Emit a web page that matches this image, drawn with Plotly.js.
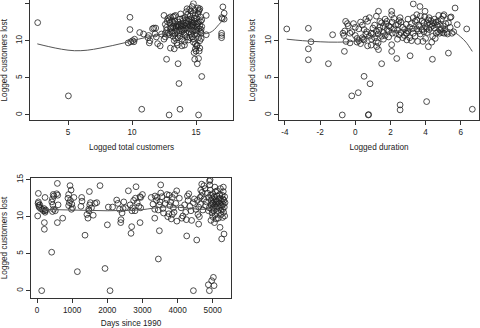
<!DOCTYPE html>
<html><head><meta charset="utf-8">
<script src="https://cdn.plot.ly/plotly-3.0.1.min.js"></script>
<style>html,body{margin:0;padding:0;background:#fff}#chart{width:480px;height:328px}</style>
</head><body><div id="chart"></div>
<script>
// Panel 1: Logged total customers vs Logged customers lost
const p1x = [2.63,5.03,9.84,9.84,9.7,9.9,10.05,10.2,10.15,10.6,10.9,10.76,11.3,11.25,11.4,11.35,11.7,11.85,11.6,11.9,11.8,12.0,12.2,12.7,12.9,13.6,13.67,13.75,15.2,15.45,15.1,15.2,14.9,14.85,15.0,15.05,14.95,15.3,15.8,15.8,17.1,17.2,17.0,17.05,17.0,17.0,17.0,17.2,14.8,13.0,13.3,13.0,13.5,13.9,14.1,13.55,12.5,12.6,12.3,
12.6,12.7,12.8,12.9,12.5,12.8,12.7,12.9,13.0,12.95,12.6,12.75,
13.1,13.2,13.3,13.4,13.1,13.2,13.3,13.45,13.35,13.25,13.15,13.4,13.3,13.45,13.05,13.35,13.2,13.5,13.4,
13.6,13.7,13.8,13.9,13.6,13.75,13.85,13.95,13.65,13.75,13.9,13.55,13.7,13.8,13.95,13.6,13.85,
14.05,14.1,14.2,14.3,14.4,14.15,14.25,14.35,14.45,14.1,14.2,14.3,14.4,14.05,14.15,14.25,14.35,14.45,14.5,14.2,14.4,14.0,14.3,14.1,
14.55,14.6,14.7,14.8,14.9,14.55,14.65,14.75,14.85,14.95,14.6,14.7,14.8,14.9,14.65,14.75,14.85,14.95,14.6,14.7,14.9,14.55,14.8,14.95,14.65,14.75,
15.05,15.1,15.2,15.3,15.4,15.05,15.15,15.25,15.35,15.45,15.1,15.2,15.3,15.4,15.05,15.15,15.25,15.35,15.45,15.2,15.3,15.1,15.25,15.4,15.15,15.35];
const p1y = [12.43,2.57,13.15,11.5,9.7,9.85,10.0,10.2,9.85,11.1,10.9,0.77,10.7,10.4,10.0,9.7,11.7,11.7,11.6,10.5,10.9,9.6,9.3,7.5,0,6.9,4.23,0.77,0,5.18,6.9,7.6,7.5,8.4,8.6,9.3,8.9,9.0,10.8,13.4,14.55,13.7,13.1,12.95,11.0,10.7,10.4,12.9,15.0,13.2,8.9,9.0,9.7,9.3,9.4,9.4,10.2,10.5,10.9,
12.2,11.4,11.0,12.8,13.4,13.0,11.8,10.8,11.6,12.4,11.0,12.6,
11.2,11.9,12.3,11.5,12.7,13.2,13.3,12.0,10.9,11.7,11.0,10.3,10.0,11.8,11.8,12.6,10.6,11.3,13.4,
11.9,12.1,11.6,11.2,12.5,12.9,12.3,13.0,11.0,10.6,10.2,12.2,11.4,13.6,11.8,10.4,12.0,
12.1,11.6,12.4,11.9,12.6,13.1,12.8,13.5,11.2,10.8,11.0,10.5,10.1,11.4,12.0,13.9,12.2,12.9,14.2,11.7,11.7,12.7,14.3,9.9,
12.0,11.5,12.3,11.8,12.6,13.3,12.8,13.7,13.0,11.4,10.9,10.5,10.2,10.8,11.9,12.1,12.4,13.4,14.0,14.6,14.1,10.4,9.8,9.6,12.5,11.3,
12.2,11.8,12.5,12.0,11.5,13.0,13.6,14.1,13.2,12.8,10.9,10.4,10.0,11.0,11.3,12.3,11.6,12.6,11.9,13.9,14.3,9.4,8.6,10.3,14.4,11.2];
const fit1x = [2.6,3.5,4.5,5.5,6.5,7.5,8.5,9.5,10.5,11.5,12.5,13.5,14.3,14.8,15.3,15.8,16.3,16.8,17.3];
const fit1y = [9.57,9.2,8.85,8.65,8.72,9.0,9.35,9.75,10.2,10.6,10.95,11.3,11.55,11.4,11.05,10.95,11.3,12.2,13.1];

// Panel 2: Logged duration vs Logged customers lost
const p2x = [-3.9,-2.67,-2.67,-2.67,-2.52,-1.53,-1.29,-0.74,-0.62,-0.53,-0.55,-0.45,-0.4,-0.7,-0.6,-0.65,-0.2,-0.3,0,0.17,0.5,0.74,0.76,0.84,1.5,2.07,2.07,2.36,2.55,2.55,3.12,3.3,3.68,3.97,4.06,4.39,4.16,5.3,5.68,5.8,6.34,6.66,5.0,5.05,5.4,5.45,0.93,1.22,1.32,1.32,2.07,2.07,2.93,2.93,3.5,
-0.2,-0.1,0.0,0.1,0.2,0.3,0.4,0.5,0.6,0.7,0.8,0.9,0.2,0.4,0.6,0.8,0.5,0.3,0.7,0.9,1.0,0.1,-0.3,0.45,0.65,
1.1,1.2,1.3,1.4,1.5,1.6,1.7,1.8,1.9,1.1,1.3,1.5,1.7,1.9,1.2,1.4,1.6,1.8,1.0,1.35,1.2,1.6,1.9,1.75,
2.1,2.2,2.3,2.4,2.5,2.6,2.7,2.8,2.9,2.2,2.4,2.6,2.8,2.1,2.5,2.7,2.3,2.9,2.0,2.55,2.45,
3.0,3.1,3.2,3.3,3.4,3.5,3.6,3.7,3.8,3.9,3.1,3.3,3.5,3.7,3.9,3.2,3.4,3.6,3.8,3.0,3.55,3.85,3.95,3.25,3.65,
4.0,4.1,4.2,4.3,4.4,4.5,4.6,4.7,4.8,4.9,4.1,4.3,4.5,4.7,4.9,4.2,4.4,4.6,4.8,4.0,4.25,4.45,4.65,4.85,4.35,4.55,4.15,4.75,4.95,4.05,
5.0,5.1,5.2,5.3,5.05,5.15,5.25,5.4,5.5,5.6];
const p2y = [11.58,11.67,8.9,7.43,9.86,6.9,10.8,0,8.56,9.9,12.6,12.3,12.0,11.0,11.3,10.7,2.57,9.7,10.7,3.0,5.2,0,0.05,4.2,6.9,9.46,8.56,7.6,1.35,0.68,7.97,14.95,14.6,13.96,1.8,7.5,9.2,8.33,14.4,12.16,11.58,0.77,13.3,13.5,13.1,13.2,10.2,9.2,8.8,13.96,13.96,13.5,11.0,10.1,13.5,
11.2,12.3,11.8,10.3,10.0,9.6,10.4,11.5,12.9,12.6,13.1,11.0,11.6,12.1,10.9,10.6,10.1,12.5,9.3,9.4,11.7,9.8,11.0,10.2,11.2,
12.1,11.3,10.9,11.8,12.4,11.1,10.7,11.5,12.0,10.4,9.7,10.6,12.9,11.3,13.3,12.6,11.9,12.6,10.9,11.4,9.9,10.2,10.5,12.3,
11.0,11.6,12.1,11.4,12.7,11.1,11.8,10.7,12.2,13.0,10.2,12.5,11.5,12.5,10.8,10.4,11.0,11.0,11.8,13.1,12.2,
11.3,11.8,12.3,11.0,12.6,11.6,12.1,10.9,11.5,12.4,10.4,13.1,12.8,13.3,11.2,10.0,10.6,11.3,12.7,12.9,9.9,9.9,13.2,11.6,11.9,
11.9,12.3,11.5,12.7,12.0,11.7,12.5,11.2,12.2,11.6,11.1,11.8,12.9,12.6,12.9,13.1,10.6,11.0,11.0,10.3,12.2,12.4,12.1,11.4,9.8,10.3,12.8,13.4,11.1,11.6,
12.0,11.5,11.1,12.4,11.0,12.3,10.9,11.8,11.0,11.2];
const fit2x = [-3.9,-3,-2,-1,0,1,2,3,4,4.8,5.3,5.7,6.0,6.3,6.66];
const fit2y = [10.2,10.0,9.85,9.8,9.95,10.55,11.1,11.55,11.85,11.85,11.5,11.05,10.5,9.8,8.55];

// Panel 3: Days since 1990 vs Logged customers lost
const p3x = [133,19,38,209,209,228,228,417,579,579,730,939,1148,1271,1366,1490,1793,1935,2002,2030,2078,2267,2381,2390,2600,2675,2694,2789,2818,2932,2932,3358,3453,3482,3520,3975,4260,4450,4545,4640,4687,4876,4905,4971,5019,5038,4924,5208,5255,5322,5303,
40,50,60,80,100,150,180,200,230,250,30,
420,440,450,460,470,480,520,560,590,600,440,
880,900,920,950,970,990,1010,1050,980,900,
1250,1280,1420,1450,1470,1500,1520,1550,1600,1650,1700,1480,
2150,2300,2350,2420,2450,2470,2520,
2650,2700,2750,2800,2850,2900,2950,3000,2720,2950,
3250,3300,3350,3400,3450,3480,3500,3520,3550,3580,3600,3350,3420,
3650,3700,3720,3750,3780,3800,3820,3850,3880,3900,3950,3980,3700,3760,3850,3920,
4050,4100,4150,4200,4250,4280,4320,4350,4380,4400,4450,4480,4120,4230,4300,
4520,4560,4580,4600,4620,4650,4680,4700,4720,4750,4780,4800,4820,4850,4880,4750,4660,4600,
4910,4920,4930,4940,4950,4960,4970,4980,4990,5000,5010,5020,5030,5040,5050,5060,5070,5080,5090,5100,5110,5120,5130,5140,5150,5160,5170,5180,5190,5200,5210,5220,5230,5240,5250,5260,5270,5280,5290,5300,5310,5320,5330,5340,5350,5340,5300,4950,5000,5050,5100,4900,4880,4990,5130,5060,5220,5280];
const p3y = [0,10.1,13.15,9.2,8.3,10.8,12.6,5.2,9.2,14.5,9.8,14.2,2.57,12.6,7.5,13.4,14.2,3.0,8.9,11.3,0,12.25,9.2,9.6,13.5,7.75,8.65,10.8,14.05,9.2,12.7,12.8,4.28,8.1,14.3,13.5,7.4,0,6.85,12.6,14.4,0.8,0,1.35,1.8,0.68,15.0,8.56,7.0,7.66,14.0,
12.0,11.5,11.3,11.6,11.1,11.0,10.8,11.1,10.6,10.9,11.8,
12.0,12.4,11.6,13.0,11.0,12.8,10.8,13.1,12.9,11.6,10.7,
12.5,13.0,11.9,12.2,13.6,11.7,11.2,12.6,11.0,11.5,
11.4,12.1,10.3,9.8,11.0,11.6,11.9,11.2,10.2,11.8,11.9,10.8,
11.3,11.8,11.0,10.5,11.1,12.0,11.2,
11.6,10.8,12.2,12.5,11.9,11.4,11.2,13.0,11.2,12.6,
12.6,11.7,11.0,12.2,10.9,11.6,12.0,13.2,12.7,11.1,10.5,9.8,12.6,
11.8,12.3,10.0,10.4,11.5,12.0,9.7,12.6,11.2,10.6,11.8,9.4,13.0,12.9,10.3,13.0,
12.5,11.2,10.1,11.6,9.6,12.8,13.1,11.4,10.8,9.5,11.9,12.4,9.8,10.6,12.2,
11.0,12.2,10.3,9.0,10.0,11.7,12.8,13.3,10.9,12.4,13.8,11.5,12.0,13.2,12.6,14.2,13.6,11.3,
14.8,14.3,13.6,12.9,12.2,11.6,11.0,10.5,12.5,13.1,11.9,11.3,10.8,12.7,12.1,11.5,10.2,13.4,12.3,11.7,11.1,12.8,12.0,11.4,10.7,9.8,12.4,11.8,11.2,13.0,12.5,11.6,10.9,10.3,12.1,11.5,12.9,11.0,12.4,11.7,10.6,12.2,11.3,12.7,11.9,10.1,13.4,9.5,10.0,9.2,9.7,11.2,10.8,11.8,13.5,14.0,13.8,9.9];
const fit3x = [0,500,1000,1500,2000,2500,3000,3300,3600,3900,4200,4500,4800,5000,5200,5350];
const fit3y = [11.0,10.95,10.9,10.85,10.8,10.85,10.95,11.15,11.3,11.3,11.2,11.05,11.0,11.15,11.35,11.5];

const yTicks = [0,5,10,15];
const x1Ticks = [5,10,15];
const x2Ticks = [-4,-2,0,2,4,6];
const x3Ticks = [0,1000,2000,3000,4000,5000];
const yLabel = 'Logged customers lost';

const font = {family: 'Liberation Sans, Arial, sans-serif', size: 8.2, color: '#222'};
const mk = {symbol: 'circle-open', size: 5.8, color: '#222', line: {width: 0.8, color: '#222'}};
const ln = {color: '#555', width: 1};

function pts(x, y, xa, ya) { return {type: 'scatter', mode: 'markers', x: x, y: y, xaxis: xa, yaxis: ya, marker: mk, hoverinfo: 'skip'}; }
function fit(x, y, xa, ya) { return {type: 'scatter', mode: 'lines', x: x, y: y, xaxis: xa, yaxis: ya, line: Object.assign({shape: 'spline'}, ln), hoverinfo: 'skip'}; }

function xax(dom, rng, tv, title) {
  return {domain: dom, range: rng, tickvals: tv, ticktext: tv.map(String), showgrid: false, zeroline: false,
    showline: true, mirror: true, linecolor: '#333', linewidth: 1, ticks: 'outside', ticklen: 4, tickcolor: '#333',
    tickfont: font, automargin: false, title: {text: title, font: font, standoff: 8}};
}
function yax(dom, rng, anchor) {
  return {domain: dom, range: rng, tickvals: yTicks, ticktext: yTicks.map(String), tickangle: -90, showgrid: false, zeroline: false,
    showline: true, mirror: true, linecolor: '#333', linewidth: 1, ticks: 'outside', ticklen: 4, tickcolor: '#333',
    tickfont: font, automargin: false, anchor: anchor, title: {text: yLabel, font: font, standoff: 6}};
}

const data = [
  pts(p1x, p1y, 'x', 'y'), fit(fit1x, fit1y, 'x', 'y'),
  pts(p2x, p2y, 'x2', 'y2'), fit(fit2x, fit2y, 'x2', 'y2'),
  pts(p3x, p3y, 'x3', 'y3'), fit(fit3x, fit3y, 'x3', 'y3')
];

const layout = {
  width: 480, height: 328, margin: {l: 0, r: 0, t: 0, b: 0}, showlegend: false,
  paper_bgcolor: '#fff', plot_bgcolor: '#fff', font: font,
  xaxis: Object.assign(xax([0.0625, 0.4854], [2.03, 17.89], x1Ticks, 'Logged total customers'), {anchor: 'y'}),
  yaxis: yax([0.6341, 0.9985], [-0.68, 15.41], 'x'),
  xaxis2: Object.assign(xax([0.5813, 0.9979], [-4.34, 7.04], x2Ticks, 'Logged duration'), {anchor: 'y2'}),
  yaxis2: yax([0.6341, 0.9985], [-0.68, 15.41], 'x2'),
  xaxis3: Object.assign(xax([0.0646, 0.4813], [-171, 5521], x3Ticks, 'Days since 1990'), {anchor: 'y3'}),
  yaxis3: yax([0.0915, 0.4573], [-0.99, 15.23], 'x3')
};

Plotly.newPlot('chart', data, layout, {staticPlot: true, displayModeBar: false});
</script></body></html>
